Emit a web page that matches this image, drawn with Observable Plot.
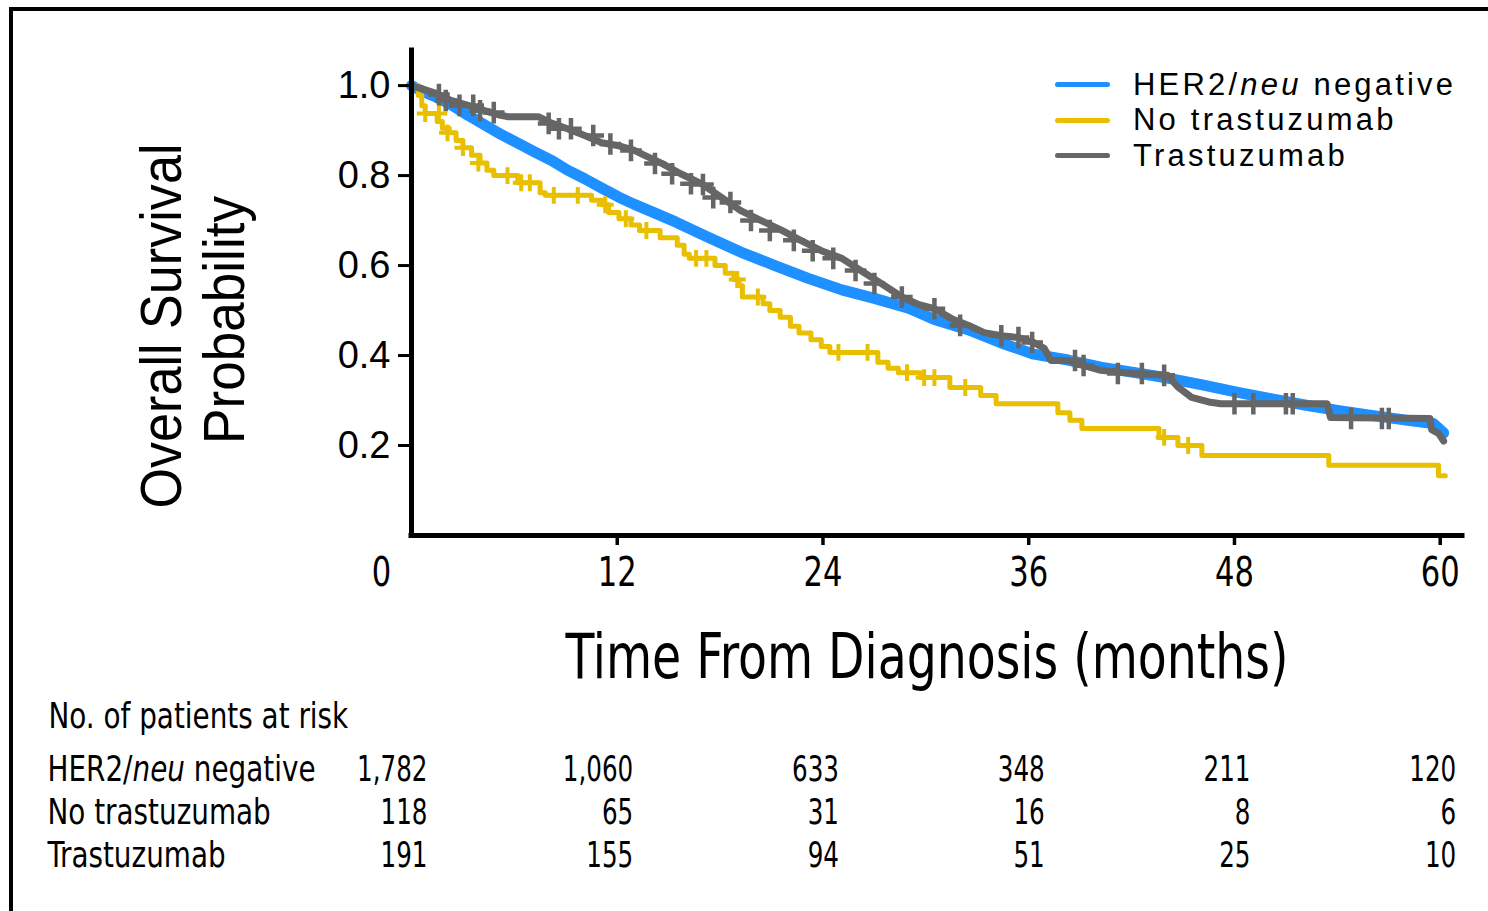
<!DOCTYPE html>
<html><head><meta charset="utf-8">
<script src="https://cdn.jsdelivr.net/npm/d3@7"></script>
<script src="https://cdn.jsdelivr.net/npm/@observablehq/plot@0.6"></script>
<style>
html,body{margin:0;padding:0;background:#fff;width:1488px;height:911px;overflow:hidden}
#frame{position:absolute;left:9px;top:7px;width:1600px;height:1000px;border-left:4px solid #000;border-top:4px solid #000;z-index:5;pointer-events:none}
#chart{position:absolute;left:0;top:0}
#risk{position:absolute;left:0;top:700px}
#legend{position:absolute;left:1055px;top:67px;font-family:"Liberation Sans",Arial,Helvetica,sans-serif;font-size:31px;letter-spacing:3.2px;color:#000;z-index:3}
.row{display:flex;align-items:center;height:35.5px;white-space:nowrap}
.sw{width:55px;height:5px;border-radius:3px;margin-right:23px;flex:none}
</style></head><body>
<div id="frame"></div><div id="chart"></div><div id="legend"></div><div id="risk"></div>
<script>
// ---------- data ----------
const groups = ["HER2/neu negative", "No trastuzumab", "Trastuzumab"];
const colors = ["#1e90ff", "#e8c000", "#666666"];

// [months, survival probability]
const her2Curve = [[0,1.0],[0.5,0.99],[1.35,0.976],[2.3,0.958],[3.3,0.934],[4.3,0.912],[5.25,0.891],[6.2,0.872],[7.2,0.852],[8.2,0.833],[9.1,0.812],[10.1,0.793],[11.1,0.772],[12.1,0.752],[13.0,0.736],[14.0,0.72],[15.4,0.697],[17.3,0.663],[19.2,0.63],[21.2,0.6],[23.1,0.572],[25.1,0.546],[27.0,0.527],[29.0,0.505],[30.5,0.48],[32.5,0.457],[34.4,0.428],[36.3,0.403],[38.3,0.39],[40.2,0.374],[42.2,0.362],[44.1,0.35],[46.2,0.334],[48.2,0.318],[50.1,0.304],[52.1,0.29],[54.0,0.278],[56.0,0.267],[57.9,0.257],[59.6,0.249],[60.2,0.228]];

const noTrasCurve = [[0,1.0],[0.4,0.978],[0.6,0.955],[0.8,0.938],[1.5,0.92],[1.8,0.905],[2.2,0.895],[2.6,0.878],[3.0,0.862],[3.5,0.845],[4.0,0.828],[4.4,0.812],[4.8,0.8],[6.2,0.784],[7.5,0.762],[7.8,0.756],[10.5,0.745],[11.1,0.735],[11.5,0.718],[12.1,0.704],[12.8,0.69],[13.3,0.678],[14.5,0.662],[15.5,0.645],[15.9,0.625],[16.2,0.616],[17.7,0.6],[18.3,0.583],[18.8,0.569],[19.1,0.555],[19.3,0.53],[20.5,0.515],[20.9,0.5],[21.5,0.485],[22.1,0.465],[22.6,0.45],[23.3,0.435],[23.9,0.42],[24.4,0.407],[27.2,0.385],[27.8,0.372],[28.4,0.362],[29.7,0.351],[31.4,0.329],[33.2,0.311],[34.1,0.293],[37.7,0.273],[38.4,0.256],[39.1,0.238],[43.6,0.218],[44.7,0.2],[46.1,0.178],[53.5,0.156],[59.9,0.133],[60.3,0.133]];

const trasCurve = [[0,1.0],[1.35,0.984],[2.3,0.967],[3.3,0.956],[4.3,0.944],[5.2,0.934],[5.6,0.931],[7.4,0.931],[8.2,0.916],[9.1,0.904],[10.1,0.889],[11.1,0.873],[12.1,0.866],[13.0,0.856],[13.6,0.845],[14.6,0.827],[15.7,0.804],[16.9,0.782],[18.1,0.751],[19.2,0.722],[20.4,0.7],[21.6,0.678],[22.7,0.656],[23.9,0.633],[25.1,0.616],[26.2,0.589],[27.4,0.56],[28.6,0.53],[29.6,0.513],[30.5,0.504],[31.5,0.482],[32.5,0.467],[33.4,0.451],[34.4,0.444],[35.4,0.44],[36.3,0.429],[36.9,0.416],[37.3,0.389],[38.3,0.389],[39.2,0.378],[40.2,0.367],[42.2,0.36],[44.1,0.356],[44.7,0.33],[45.5,0.307],[46.6,0.296],[47.2,0.293],[53.4,0.293],[53.6,0.262],[59.4,0.26],[59.5,0.235],[59.9,0.227],[60.2,0.21]];

// censored observations (+ marks)
const noTrasCensor = [[0.8,0.938],[1.6,0.938],[2.1,0.895],[3.0,0.862],[3.9,0.828],[5.6,0.8],[6.4,0.784],[6.9,0.784],[8.3,0.756],[9.7,0.756],[11.3,0.735],[12.5,0.704],[13.7,0.678],[16.6,0.616],[17.2,0.616],[19.0,0.569],[20.2,0.53],[24.9,0.407],[26.6,0.407],[28.9,0.362],[29.9,0.351],[30.5,0.351],[32.3,0.329],[43.9,0.218],[45.3,0.2]];
const trasCensor = [[1.6,0.98],[2.0,0.967],[2.8,0.956],[3.6,0.956],[4.0,0.944],[4.8,0.94],[8.0,0.916],[8.6,0.904],[9.3,0.904],[10.6,0.889],[11.6,0.87],[12.8,0.856],[14.2,0.827],[15.2,0.804],[16.3,0.782],[17.0,0.78],[17.6,0.751],[18.6,0.74],[19.8,0.7],[20.9,0.678],[22.3,0.656],[23.4,0.633],[24.6,0.616],[25.9,0.589],[27.0,0.56],[28.6,0.53],[30.5,0.504],[32.0,0.467],[34.4,0.444],[35.4,0.44],[36.2,0.429],[38.7,0.389],[39.2,0.378],[41.2,0.36],[42.6,0.36],[43.9,0.356],[48.0,0.293],[49.1,0.293],[51.0,0.293],[51.4,0.293],[54.8,0.26],[56.6,0.26],[57.0,0.26]];

const xTicks = [0, 12, 24, 36, 48, 60];
const yTicks = [0.2, 0.4, 0.6, 0.8, 1.0];
const xTitle = "Time From Diagnosis (months)";
const yTitle = ["Overall Survival", "Probability"];
const riskTitle = "No. of patients at risk";
const riskTimes = [0, 12, 24, 36, 48, 60];
const riskHer2 = [1782, 1060, 633, 348, 211, 120];
const riskNoTras = [118, 65, 31, 16, 8, 6];
const riskTras = [191, 155, 94, 51, 25, 10];

// ---------- build ----------
const toRows = (arr) => arr.map(([t, s]) => ({t, s}));
const narrow = '"Liberation Sans Narrow","Arial Narrow","DejaVu Sans Condensed",sans-serif';
const sans = '"Liberation Sans",Arial,Helvetica,sans-serif';
const xDomain = [0, 61.3];
const yDomain = [0, 1.078];

const chart = Plot.plot({
  width: 1488, height: 700,
  marginLeft: 411, marginRight: 26, marginTop: 50, marginBottom: 165,
  style: {background: "transparent", overflow: "visible", color: "#000"},
  x: {domain: xDomain},
  y: {domain: yDomain},
  marks: [
    Plot.line(toRows(her2Curve), {x: "t", y: "s", stroke: colors[0], strokeWidth: 11, strokeLinejoin: "round"}),
    Plot.line(toRows(noTrasCurve), {x: "t", y: "s", stroke: colors[1], strokeWidth: 5, curve: "step-after"}),
    Plot.dot(toRows(noTrasCensor), {x: "t", y: "s", symbol: "plus", r: 5.5, stroke: colors[1], strokeWidth: 4}),
    Plot.line(toRows(trasCurve), {x: "t", y: "s", stroke: colors[2], strokeWidth: 7, strokeLinejoin: "round"}),
    Plot.dot(toRows(trasCensor), {x: "t", y: "s", symbol: "plus", r: 7, stroke: colors[2], strokeWidth: 4.5}),
    Plot.ruleX([0], {strokeWidth: 5, strokeLinecap: "square"}),
    Plot.ruleY([0], {strokeWidth: 5, strokeLinecap: "square"}),
    Plot.axisY({ticks: yTicks, tickFormat: d3.format(".1f"), tickSize: 13, tickPadding: 8, fontSize: 38, fontFamily: sans, strokeWidth: 3, label: null}),
    Plot.axisX({ticks: xTicks.slice(1), tickFormat: d => String(d), tickSize: 10, tickPadding: 12, fontSize: 40, fontFamily: narrow, strokeWidth: 3.5, label: null}),
    Plot.text([xTicks[0]], {x: d => d, text: d => String(d), frameAnchor: "bottom", dy: 22, dx: -30, lineAnchor: "top", fontSize: 40, fontFamily: narrow}),
    Plot.text([xTitle], {text: d => d, frameAnchor: "bottom", dy: 142, dx: -10, lineAnchor: "bottom", fontSize: 62, fontFamily: narrow}),
    Plot.text([yTitle[0]], {text: d => d, frameAnchor: "left", dx: -231, dy: 33, rotate: -90, textAnchor: "middle", lineAnchor: "bottom", fontSize: 58, fontFamily: sans}),
    Plot.text([yTitle[1]], {text: d => d, frameAnchor: "left", dx: -168, dy: 27, rotate: -90, textAnchor: "middle", lineAnchor: "bottom", fontSize: 58, fontFamily: sans})
  ]
});
document.getElementById("chart").appendChild(chart);

const fit = {[xTitle]: 723, [yTitle[0]]: 365, [yTitle[1]]: 248};
d3.select(chart).selectAll("text").each(function() {
  const L = fit[this.textContent];
  if (L) d3.select(this).attr("textLength", L).attr("lengthAdjust", "spacingAndGlyphs");
  else if (/^\d+$/.test(this.textContent)) {
    const w = this.getComputedTextLength();
    d3.select(this).attr("textLength", w * 0.85).attr("lengthAdjust", "spacingAndGlyphs");
  }
});

// legend
const legend = d3.select("#legend");
groups.forEach((g, i) => {
  const row = legend.append("div").attr("class", "row");
  row.append("div").attr("class", "sw").style("background", colors[i]);
  const lab = row.append("span");
  if (g.includes("/neu")) lab.html('HER2/<i>neu</i> negative'); else lab.text(g);
});

// risk table
const riskCounts = [riskHer2, riskNoTras, riskTras];
const riskRows = groups.flatMap((g, i) => riskTimes.map((t, j) => ({group: g, t, n: riskCounts[i][j]})));
const risk = Plot.plot({
  width: 1488, height: 211,
  marginLeft: 411, marginRight: 26, marginTop: 68, marginBottom: 56,
  style: {background: "transparent", overflow: "visible", color: "#000"},
  x: {domain: xDomain, axis: null},
  y: {type: "point", domain: groups, padding: 0, axis: null},
  marks: [
    Plot.text([riskTitle], {text: d => d, frameAnchor: "top-left", dx: -363, dy: -52, textAnchor: "start", lineAnchor: "middle", fontSize: 36, fontFamily: narrow}),
    Plot.text(groups, {y: d => d, text: d => d, frameAnchor: "left", dx: -364, textAnchor: "start", lineAnchor: "middle", fontSize: 36, fontFamily: narrow}),
    Plot.text(riskRows, {x: "t", y: "group", text: d => d3.format(",")(d.n), textAnchor: "end", lineAnchor: "middle", dx: 16, fontSize: 36, fontFamily: narrow})
  ]
});
document.getElementById("risk").appendChild(risk);

// horizontally squeeze a text element about its anchor point (y attribute kept as is)
function squeeze(el, f) {
  const xa = el.getAttribute("x");
  let x = 0;
  if (xa !== null && /^-?[\d.]+$/.test(xa)) { x = +xa; el.removeAttribute("x"); }
  const t = el.getAttribute("transform") || "";
  el.setAttribute("transform", `${t} translate(${x},0) scale(${f},1)`);
}
d3.select(risk).selectAll("text").each(function() {
  const s = d3.select(this);
  const content = this.textContent;
  if (content === "HER2/neu negative") {
    s.text(null);
    s.append("tspan").text("HER2/");
    s.append("tspan").attr("font-style", "italic").text("neu");
    s.append("tspan").text("\u00a0negative");
  }
  squeeze(this, /^[\d,]+$/.test(content) ? 0.76 : 0.86);
});
</script></body></html>
